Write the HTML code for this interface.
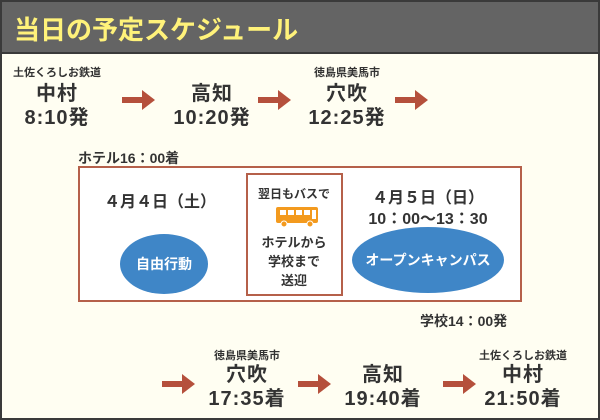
<!DOCTYPE html>
<html><head><meta charset="utf-8"><style>
body{margin:0;width:600px;height:420px;overflow:hidden;font-family:"Liberation Sans","Noto Sans CJK JP",sans-serif;}
#f{position:absolute;left:0;top:0;width:596px;height:416px;border:2px solid #3a3a3a;background:#fffef2;}
#h{position:absolute;left:0;top:0;width:596px;height:50px;background:#646464;border-bottom:2px solid #3a3a3a;}
#h span{position:absolute;left:12px;top:8px;font-size:26px;font-weight:bold;color:#fff27a;}
.t{position:absolute;text-align:center;color:#333;font-weight:bold;white-space:nowrap;transform:translateX(-50%);}
.s{font-size:11px;}
.n{font-size:20px;line-height:24px;letter-spacing:1px;}
.a{position:absolute;height:6px;background:#b5503c;width:20px;}
.a:after{content:"";position:absolute;left:20px;top:-7px;border-left:13px solid #b5503c;border-top:10px solid transparent;border-bottom:10px solid transparent;}
.e{position:absolute;background:#3f86c7;border-radius:50%;color:#fff;font-weight:bold;display:flex;align-items:center;justify-content:center;}
</style></head><body><div id="f">
<div id="h"><span>当日の予定スケジュール</span></div>
<div class="t s" style="left:55px;top:62px">土佐くろしお鉄道</div>
<div class="t n" style="left:55px;top:80px">中村<br>8:10発</div>
<div class="t n" style="left:210px;top:80px">高知<br>10:20発</div>
<div class="t s" style="left:345px;top:62px">徳島県美馬市</div>
<div class="t n" style="left:345px;top:80px">穴吹<br>12:25発</div>
<div class="a" style="left:120px;top:95px"></div>
<div class="a" style="left:256px;top:95px"></div>
<div class="a" style="left:393px;top:95px"></div>
<div style="position:absolute;left:76px;top:146px;font-size:14px;font-weight:bold;color:#333">ホテル16：00着</div>
<div style="position:absolute;left:76px;top:164px;width:440px;height:132px;border:2px solid #b5604a;background:#fff"></div>
<div style="position:absolute;left:244px;top:171px;width:93px;height:119px;border:2px solid #b5604a;background:#fff"></div>
<div class="t" style="left:158px;top:186px;font-size:16px">４月４日（土）</div>
<div class="e" style="left:118px;top:232px;width:88px;height:60px;font-size:14px">自由行動</div>
<div class="t" style="left:292px;top:183px;font-size:12px">翌日もバスで</div>
<svg style="position:absolute;left:272px;top:204px" width="46" height="22"><rect x="2" y="1" width="42" height="16" rx="2" fill="#f39a1e"/><rect x="6" y="4" width="6" height="5" fill="#fff"/><rect x="14" y="4" width="6" height="5" fill="#fff"/><rect x="22" y="4" width="6" height="5" fill="#fff"/><rect x="30" y="4" width="6" height="5" fill="#fff"/><rect x="38" y="4" width="4" height="9" fill="#fff"/><circle cx="10" cy="18" r="3" fill="#f39a1e" stroke="#fff"/><circle cx="36" cy="18" r="3" fill="#f39a1e" stroke="#fff"/></svg>
<div class="t" style="left:292px;top:231px;font-size:13px;line-height:19px">ホテルから<br>学校まで<br>送迎</div>
<div class="t" style="left:426px;top:186px;font-size:16px;line-height:21px">４月５日（日）<br>10：00〜13：30</div>
<div class="e" style="left:350px;top:225px;width:152px;height:66px;font-size:14px">オープンキャンパス</div>
<div style="position:absolute;left:418px;top:309px;font-size:14px;font-weight:bold;color:#333">学校14：00発</div>
<div class="a" style="left:160px;top:379px"></div>
<div class="a" style="left:296px;top:379px"></div>
<div class="a" style="left:441px;top:379px"></div>
<div class="t s" style="left:245px;top:345px">徳島県美馬市</div>
<div class="t n" style="left:245px;top:361px">穴吹<br>17:35着</div>
<div class="t n" style="left:381px;top:361px">高知<br>19:40着</div>
<div class="t s" style="left:521px;top:345px">土佐くろしお鉄道</div>
<div class="t n" style="left:521px;top:361px">中村<br>21:50着</div>
</div></body></html>
